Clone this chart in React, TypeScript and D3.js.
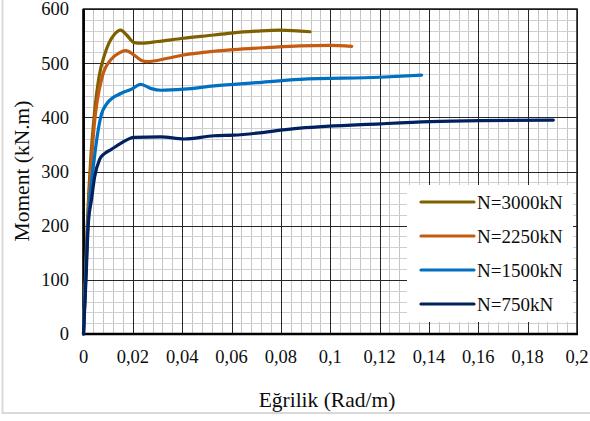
import React, { useEffect, useRef } from 'react'
import * as d3 from 'd3'

// curvature (Rad/m) and moment (kN.m)
const kappa3000 = [0, 0.0015, 0.0029, 0.0045, 0.0063, 0.0085, 0.0103, 0.0125, 0.0151, 0.0175, 0.0205, 0.0238, 0.03, 0.0405, 0.0529, 0.0607, 0.07, 0.0796, 0.0918]
const moment3000 = [0, 200, 321, 410, 475, 515, 537, 553, 561, 552, 538, 537, 540, 546, 552, 556, 559, 561, 558]

const kappa2250 = [0, 0.0017, 0.0043, 0.0076, 0.011, 0.0145, 0.0171, 0.0205, 0.0235, 0.0259, 0.034, 0.0405, 0.0529, 0.0607, 0.075, 0.0877, 0.1, 0.1087]
const moment2250 = [0, 200, 383, 475, 506, 519, 523, 515, 505, 503, 509, 515, 522, 525, 529, 532, 533, 531]

const kappa1500 = [0, 0.0018, 0.0043, 0.007, 0.0096, 0.0151, 0.0195, 0.0232, 0.0275, 0.0313, 0.0407, 0.0529, 0.07, 0.0877, 0.1202, 0.137]
const moment1500 = [0, 200, 321, 401, 426, 444, 452, 461, 453, 450, 452, 458, 464, 470, 474, 478]

const kappa750 = [0, 0.001, 0.0019, 0.0033, 0.0045, 0.0065, 0.0085, 0.011, 0.0151, 0.0205, 0.0313, 0.0407, 0.0529, 0.0607, 0.0877, 0.1202, 0.1404, 0.1607, 0.1904]
const moment750 = [0, 100, 200, 250, 290, 322, 333, 340, 352, 363, 364, 360, 366, 367, 380, 388, 392, 394, 395]

const seriesNames = ['N=3000kN', 'N=2250kN', 'N=1500kN', 'N=750kN']
const seriesColors = ['#7f6000', '#c55a11', '#0070c0', '#002060']

const xTicks = [0, 0.02, 0.04, 0.06, 0.08, 0.1, 0.12, 0.14, 0.16, 0.18, 0.2]
const yTicks = [0, 100, 200, 300, 400, 500, 600]

const App = () => {
  const svgRef = useRef<SVGSVGElement>(null)

  useEffect(() => {
    const w = 590
    const h = 421
    const left = 83.5
    const right = 577
    const top = 9
    const bottom = 334
    const font = 'Liberation Serif, Times New Roman, serif'
    const ink = '#0d0d0d'

    const svg = d3.select(svgRef.current)
    svg.selectAll('*').remove()
    svg.attr('width', w).attr('height', h)

    // outer chart frame
    svg.append('rect')
      .attr('x', 2.5).attr('y', -5)
      .attr('width', 600).attr('height', 418)
      .attr('fill', 'white')
      .attr('stroke', '#d9d9d9')
      .attr('stroke-width', 2)

    const xScale = d3.scaleLinear().domain([0, 0.2]).range([left, right])
    const yScale = d3.scaleLinear().domain([0, 600]).range([bottom, top])

    const grid = svg.append('g')
    // minor grid
    grid.selectAll('.vminor')
      .data(d3.range(0, 51).map(i => i * 0.004).filter((_, i) => i % 5 !== 0))
      .join('line')
      .attr('x1', d => Math.round(xScale(d)) + 0.5)
      .attr('x2', d => Math.round(xScale(d)) + 0.5)
      .attr('y1', top).attr('y2', bottom)
      .attr('stroke', '#c4c4c4')
    grid.selectAll('.hminor')
      .data(d3.range(0, 31).map(i => i * 20).filter((_, i) => i % 5 !== 0))
      .join('line')
      .attr('y1', d => Math.round(yScale(d)) + 0.5)
      .attr('y2', d => Math.round(yScale(d)) + 0.5)
      .attr('x1', left).attr('x2', right)
      .attr('stroke', '#d0d0d0')
    // major grid
    grid.selectAll('.vmajor')
      .data(xTicks)
      .join('line')
      .attr('x1', d => Math.round(xScale(d)) + 0.5)
      .attr('x2', d => Math.round(xScale(d)) + 0.5)
      .attr('y1', top).attr('y2', bottom)
      .attr('stroke', '#262626')
    grid.selectAll('.hmajor')
      .data(yTicks)
      .join('line')
      .attr('y1', d => Math.round(yScale(d)) + 0.5)
      .attr('y2', d => Math.round(yScale(d)) + 0.5)
      .attr('x1', left).attr('x2', right)
      .attr('stroke', '#262626')

    // plot frame
    svg.append('rect')
      .attr('x', left).attr('y', top)
      .attr('width', right - left).attr('height', bottom - top)
      .attr('fill', 'none')
      .attr('stroke', '#1a1a1a')
      .attr('stroke-width', 1.5)
    svg.append('line')
      .attr('x1', left).attr('x2', left)
      .attr('y1', top).attr('y2', bottom + 1)
      .attr('stroke', 'black').attr('stroke-width', 2.5)
    svg.append('line')
      .attr('x1', left - 1).attr('x2', right + 1)
      .attr('y1', bottom).attr('y2', bottom)
      .attr('stroke', 'black').attr('stroke-width', 2.5)

    // legend background (drawn before lines so the curves stay on top)
    svg.append('rect')
      .attr('x', 407).attr('y', 185)
      .attr('width', 166).attr('height', 137)
      .attr('fill', 'white')

    const seriesData = [
      d3.zip(kappa3000, moment3000),
      d3.zip(kappa2250, moment2250),
      d3.zip(kappa1500, moment1500),
      d3.zip(kappa750, moment750),
    ]

    const generateScaledLine = d3.line<number[]>()
      .x(d => xScale(d[0]))
      .y(d => yScale(d[1]))
      .curve(d3.curveMonotoneX)

    svg.selectAll('.series')
      .data(seriesData)
      .join('path')
      .attr('d', d => generateScaledLine(d))
      .attr('fill', 'none')
      .attr('stroke', (d, i) => seriesColors[i])
      .attr('stroke-width', 3.2)
      .attr('stroke-linejoin', 'round')
      .attr('stroke-linecap', 'round')

    // tick labels
    const locale = d3.formatLocale({ decimal: ',', thousands: '.', grouping: [3], currency: ['', ''] })
    const fmt = locale.format('~g')

    svg.append('g')
      .selectAll('text')
      .data(yTicks)
      .join('text')
      .attr('x', 69)
      .attr('y', d => yScale(d))
      .attr('dy', '0.35em')
      .attr('text-anchor', 'end')
      .attr('font-family', font)
      .attr('font-size', 18.5)
      .attr('fill', ink)
      .text(d => d)

    svg.append('g')
      .selectAll('text')
      .data(xTicks)
      .join('text')
      .attr('x', d => xScale(d))
      .attr('y', 357)
      .attr('dy', '0.35em')
      .attr('text-anchor', 'middle')
      .attr('font-family', font)
      .attr('font-size', 18.5)
      .attr('fill', ink)
      .text(d => fmt(d))

    // axis titles
    svg.append('text')
      .attr('x', 327)
      .attr('y', 399)
      .attr('dy', '0.35em')
      .attr('text-anchor', 'middle')
      .attr('font-family', font)
      .attr('font-size', 21.5)
      .attr('fill', ink)
      .text('Eğrilik (Rad/m)')

    svg.append('text')
      .attr('transform', `translate(21, 171) rotate(-90)`)
      .attr('dy', '0.35em')
      .attr('text-anchor', 'middle')
      .attr('font-family', font)
      .attr('font-size', 21.5)
      .attr('fill', ink)
      .text('Moment (kN.m)')

    // legend
    const legend = svg.append('g')
    const rows = legend.selectAll('g')
      .data(seriesNames)
      .join('g')
      .attr('transform', (d, i) => `translate(0, ${202 + i * 34})`)
    rows.append('line')
      .attr('x1', 421).attr('x2', 474)
      .attr('y1', 0).attr('y2', 0)
      .attr('stroke', (d, i) => seriesColors[i])
      .attr('stroke-width', 3.2)
      .attr('stroke-linecap', 'round')
    rows.append('text')
      .attr('x', 477)
      .attr('dy', '0.35em')
      .attr('font-family', font)
      .attr('font-size', 19)
      .attr('fill', ink)
      .text(d => d)
  }, [])

  return (
    <svg ref={svgRef} style={{ position: 'absolute', left: 0, top: 0, display: 'block' }}></svg>
  )
}

export default App
